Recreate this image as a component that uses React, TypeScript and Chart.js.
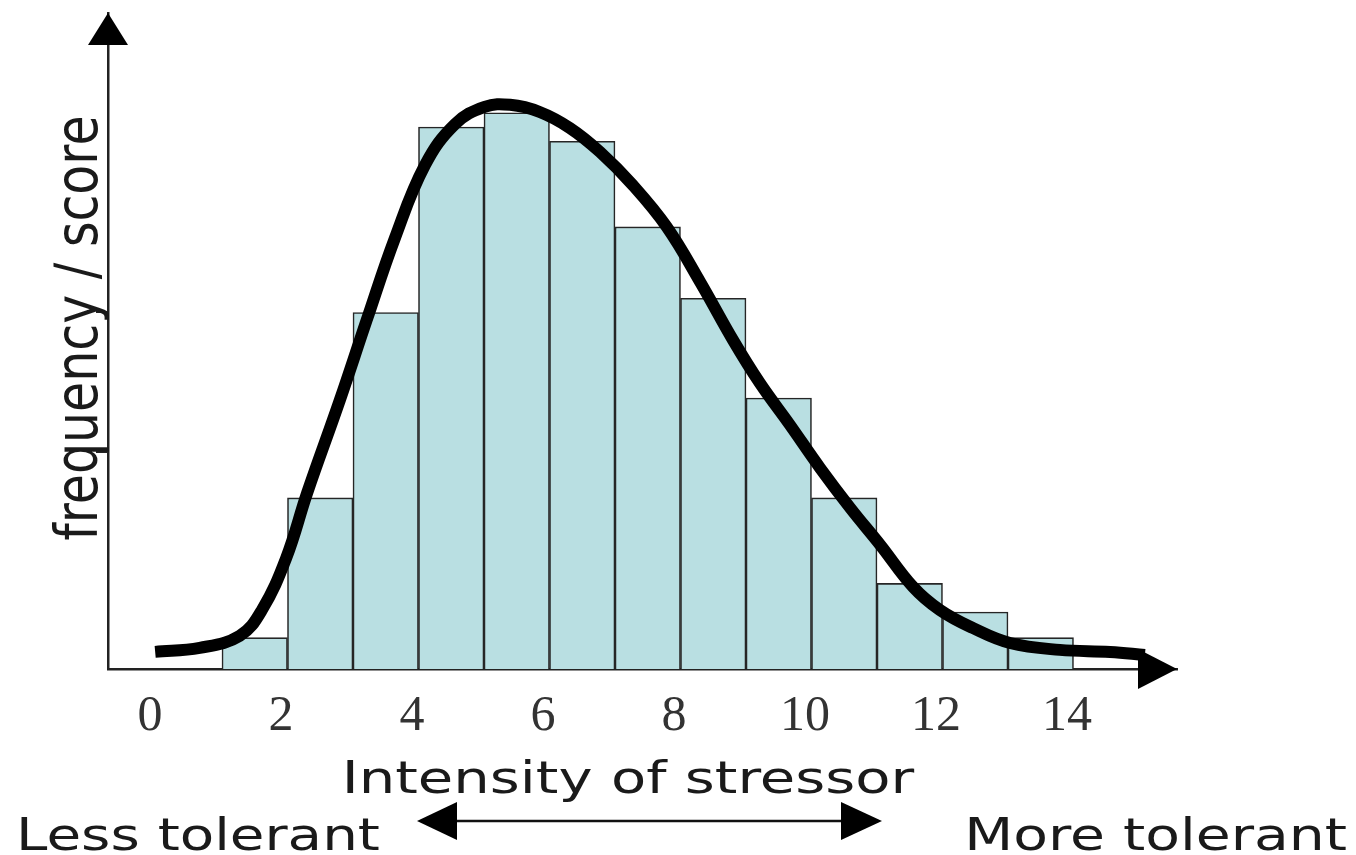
import React, { useEffect, useRef } from "react";
import { Chart, registerables } from "chart.js";

Chart.register(...registerables);

// ---- data ----
const binCenters = [1.6, 2.6, 3.6, 4.6, 5.6, 6.6, 7.6, 8.6, 9.6, 10.6, 11.6, 12.6, 13.6];
const binCounts = [1.1, 6, 12.5, 19, 19.5, 18.5, 15.5, 13, 9.5, 6, 3, 2, 1.1];

const curveX = [0.08, 0.76, 1.37, 1.71, 2.08, 2.4, 2.9, 3.31, 3.74, 4.2, 4.66, 5.11, 5.5, 5.95, 6.41, 6.87, 7.37, 7.89, 8.4, 8.9, 9.31, 9.77, 10.23, 10.69, 11.15, 11.65, 12.06, 12.56, 13.13, 13.89, 14.66, 15.19];
const curveY = [0.6, 0.74, 1.16, 2.07, 3.89, 6.17, 9.43, 12.24, 15.11, 17.67, 19.11, 19.71, 19.78, 19.53, 18.97, 18.13, 16.97, 15.5, 13.57, 11.54, 10.03, 8.56, 7.05, 5.65, 4.35, 2.88, 2.07, 1.44, 0.91, 0.67, 0.6, 0.49];

const xTickValues = [0, 2, 4, 6, 8, 10, 12, 14];
const yMarkValues = [7.6, 12.5];

const yAxisTitle = "frequency / score";
const xAxisTitle = "Intensity of stressor";
const leftNote = "Less tolerant";
const rightNote = "More tolerant";

const SANS = '"DejaVu Sans", Verdana, sans-serif';

const decorations = {
  id: "decorations",
  afterDraw(chart: any) {
    const { ctx, chartArea: ca } = chart;
    ctx.save();
    ctx.fillStyle = "#000";
    // y axis arrow head
    ctx.beginPath();
    ctx.moveTo(ca.left, ca.top);
    ctx.lineTo(ca.left - 20, ca.top + 32);
    ctx.lineTo(ca.left + 20, ca.top + 32);
    ctx.closePath();
    ctx.fill();
    // x axis arrow head
    ctx.beginPath();
    ctx.moveTo(ca.right, ca.bottom);
    ctx.lineTo(ca.right - 39, ca.bottom - 20);
    ctx.lineTo(ca.right - 39, ca.bottom + 20);
    ctx.closePath();
    ctx.fill();

    // double arrow
    const ay = 821;
    ctx.strokeStyle = "#111";
    ctx.lineWidth = 2.5;
    ctx.beginPath();
    ctx.moveTo(450, ay);
    ctx.lineTo(848, ay);
    ctx.stroke();
    ctx.beginPath();
    ctx.moveTo(417, ay);
    ctx.lineTo(457, ay - 19);
    ctx.lineTo(457, ay + 19);
    ctx.closePath();
    ctx.fill();
    ctx.beginPath();
    ctx.moveTo(882, ay);
    ctx.lineTo(841, ay - 19);
    ctx.lineTo(841, ay + 19);
    ctx.closePath();
    ctx.fill();

    // texts
    ctx.fillStyle = "#1a1a1a";
    ctx.textBaseline = "alphabetic";
    ctx.font = `44px ${SANS}`;

    const drawStretched = (text: string, x: number, y: number, align: CanvasTextAlign, stretch: number) => {
      ctx.save();
      ctx.translate(x, y);
      ctx.scale(stretch, 1);
      ctx.textAlign = align;
      ctx.fillText(text, 0, 0);
      ctx.restore();
    };
    drawStretched(xAxisTitle, 628, 793, "center", 1.31);
    drawStretched(leftNote, 16, 850, "left", 1.28);
    drawStretched(rightNote, 1347, 850, "right", 1.29);

    // y axis title (rotated)
    ctx.save();
    ctx.translate(97, 328);
    ctx.rotate(-Math.PI / 2);
    ctx.scale(1, 1.2);
    ctx.font = `49px ${SANS}`;
    ctx.textAlign = "center";
    ctx.fillText(yAxisTitle, 0, 0);
    ctx.restore();

    ctx.restore();
  },
};

export default function App() {
  const canvasRef = useRef<HTMLCanvasElement | null>(null);

  useEffect(() => {
    const canvas = canvasRef.current;
    if (!canvas) return;
    const chart = new Chart(canvas, {
      type: "bar",
      data: {
        datasets: [
          {
            type: "line",
            data: curveX.map((x, i) => ({ x, y: curveY[i] })),
            borderColor: "#000",
            borderWidth: 12,
            pointRadius: 0,
            tension: 0.4,
            fill: false,
            order: 1,
          } as any,
          {
            type: "bar",
            data: binCenters.map((x, i) => ({ x, y: binCounts[i] })),
            backgroundColor: "#b9dfe2",
            borderColor: "#262626",
            borderWidth: 1.6,
            borderSkipped: "bottom",
            barPercentage: 1,
            categoryPercentage: 1,
            order: 2,
          } as any,
        ],
      },
      options: {
        responsive: false,
        animation: false,
        layout: { padding: { left: 96, right: 179, top: 13, bottom: 90 } },
        plugins: { legend: { display: false }, tooltip: { enabled: false } },
        scales: {
          x: {
            type: "linear",
            min: -0.64,
            max: 15.68,
            offset: false,
            z: 1,
            grid: { display: false, drawTicks: false },
            border: { display: true, color: "#222", width: 2.5 },
            afterBuildTicks: (scale: any) => {
              scale.ticks = xTickValues.map((v) => ({ value: v }));
            },
            ticks: {
              padding: 18,
              color: "#333",
              font: { family: '"Liberation Serif", "Times New Roman", serif', size: 50 },
              callback: (v: any) => String(v),
            },
          },
          y: {
            type: "linear",
            min: 0,
            max: 23,
            z: 1,
            grid: { display: true, drawOnChartArea: false, drawTicks: true, tickLength: 12, color: "#222", lineWidth: 2 },
            border: { display: true, color: "#222", width: 2.5 },
            afterBuildTicks: (scale: any) => {
              scale.ticks = yMarkValues.map((v) => ({ value: v }));
            },
            ticks: { display: false },
          },
        },
      } as any,
      plugins: [decorations],
    });
    return () => chart.destroy();
  }, []);

  return (
    <div style={{ position: "absolute", left: 0, top: 0, width: 1356, height: 855, background: "#fff" }}>
      <canvas ref={canvasRef} width={1356} height={855} style={{ display: "block" }} />
    </div>
  );
}
